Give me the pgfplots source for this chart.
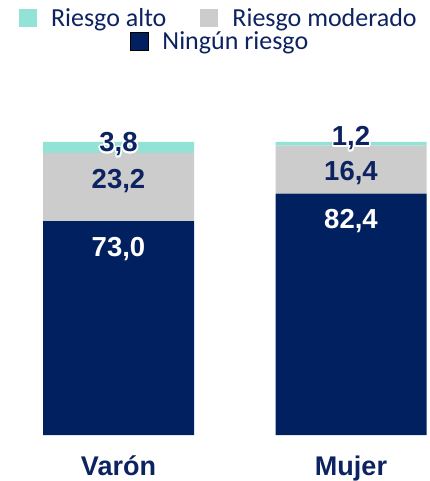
\documentclass[border=0pt]{standalone}
\usepackage{fontspec}
\setmainfont{Liberation Sans}
\newfontfamily\legfont{Carlito}
\usepackage{pgfplots}
\pgfplotsset{compat=1.18}
\usepackage{contour}
\contourlength{1.6bp}
\definecolor{navy}{HTML}{002060}
\definecolor{grayseg}{HTML}{CCCCCC}
\definecolor{tealseg}{HTML}{92E2D6}
\definecolor{txtnavy}{HTML}{0D2261}
\pgfplotsset{
  sq/.style={legend image code/.code={\fill[##1] (0bp,-9bp) rectangle (18bp,9bp);}},
  legfontstyle/.style={font=\legfont\fontsize{26bp}{30bp}\selectfont, text=txtnavy},
}

\begin{document}
\begin{tikzpicture}
\path[use as bounding box] (0,0) rectangle (430bp,481bp);
\begin{axis}[
  at={(0bp,46bp)}, anchor=south west,
  scale only axis, width=430bp, height=293bp,
  ybar stacked, bar width=151bp,
  xmin=-0.5097, xmax=1.3398, ymin=0, ymax=100,
  xtick={0,1}, xticklabels={Varón,Mujer},
  ytick=\empty,
  major tick length=0pt,
  axis line style={draw=none},
  clip=false,
  xticklabel style={anchor=base, yshift=-40bp, font=\fontsize{27bp}{30bp}\selectfont\bfseries, text=txtnavy},
  point meta=explicit symbolic,
  visualization depends on=rawy \as \rawy,
  nodes near coords,
  nodes near coords style={anchor=base, font=\fontsize{27.5bp}{30bp}\selectfont\bfseries},
  legend style={at={(0.509,1.423)}, anchor=center, draw=none, fill=none,
    legend columns=2, legfontstyle,
    /tikz/every odd column/.append style={column sep=12bp},
    /tikz/every even column/.append style={column sep=32bp}},
  reverse legend,
]
% Ningún riesgo
\addplot[fill=navy, draw=none, forget plot,
  nodes near coords style={text=white, yshift={\rawy*1.465bp-35bp}}]
  coordinates {(0,73.0) [{73,0}] (1,82.4) [{82,4}]};
% Riesgo moderado
\addplot[fill=grayseg, draw=none, sq,
  nodes near coords style={text=txtnavy, yshift={\rawy*1.465bp-35bp}}]
  coordinates {(0,23.2) [{23,2}] (1,16.4) [{16,4}]};
\addlegendentry{Riesgo moderado}
% Riesgo alto
\addplot[fill=tealseg, draw=none, sq,
  nodes near coords={\contour{white}{\pgfplotspointmeta}},
  nodes near coords style={text=txtnavy, yshift={-0.835*\rawy*1bp-1.2bp}}]
  coordinates {(0,3.8) [{3,8}] (1,1.2) [{1,2}]};
\addlegendentry{Riesgo alto}
\end{axis}
\begin{axis}[
  at={(0bp,46bp)}, anchor=south west,
  scale only axis, width=430bp, height=293bp,
  hide axis, xmin=0, xmax=1, ymin=0, ymax=1,
  legend style={at={(0.512,1.343)}, anchor=center, draw=none, fill=none, legfontstyle,
    /tikz/every odd column/.append style={column sep=12bp}},
]
\addlegendimage{sq, fill=navy}
\addlegendentry{Ningún riesgo}
\end{axis}
\end{tikzpicture}
\end{document}
